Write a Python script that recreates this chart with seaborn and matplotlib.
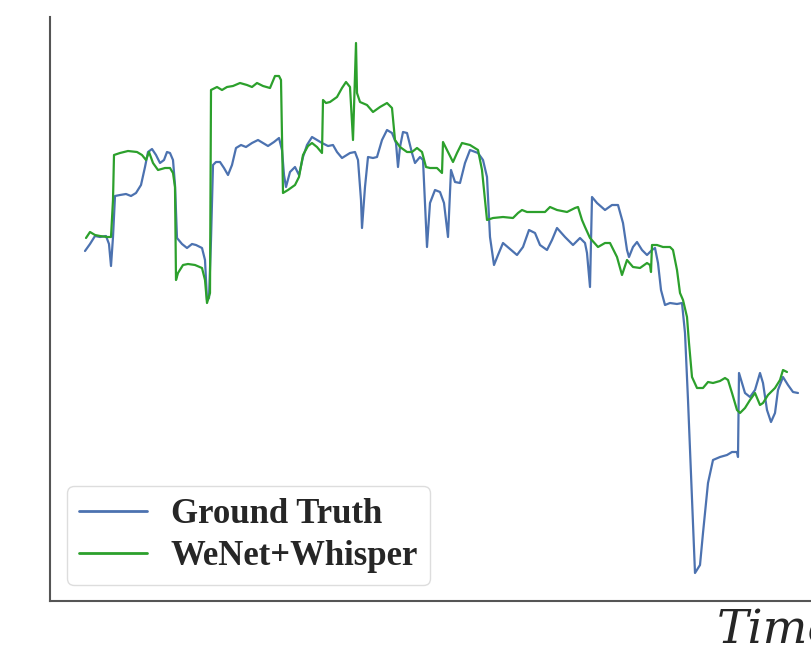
import pandas as pd
import matplotlib.pyplot as plt
import seaborn as sns

# pitch contour: ground truth vs. WeNet+Whisper prediction
gt_frames = [85, 90, 95, 100, 106, 109, 111, 113, 115, 120, 126, 131, 136, 141, 145, 148, 152, 156, 160, 164,
             167, 170, 173, 175, 177, 182, 187, 192, 196, 202, 205, 207, 209, 211, 213, 216, 220, 224, 228, 232,
             236, 241, 246, 252, 258, 263, 268, 274, 279, 282, 284, 286, 290, 295, 299, 303, 307, 312, 317, 322,
             328, 333, 337, 342, 350, 355, 358, 361, 362, 365, 368, 373, 377, 382, 387, 392, 396, 398, 400, 403,
             407, 412, 415, 420, 423, 427, 430, 435, 440, 444, 448, 451, 455, 460, 465, 470, 478, 483, 487, 490,
             494, 498, 503, 510, 517, 523, 529, 535, 540, 547, 552, 557, 565, 573, 580, 585, 587, 590, 592, 597,
             605, 612, 618, 623, 627, 629, 633, 637, 642, 647, 652, 655, 658, 661, 665, 670, 677, 682, 685, 688,
             692, 695, 700, 703, 708, 713, 720, 727, 732, 737, 738, 739, 742, 745, 750, 755, 760, 763, 767, 771,
             775, 778, 783, 788, 793, 798]
gt_pitch = [350, 357, 365, 364, 365, 357, 335, 364, 405, 406, 407, 405, 408, 416, 434, 449, 452, 446, 438, 441,
            449, 448, 441, 416, 363, 357, 353, 357, 356, 353, 341, 301, 303, 361, 436, 439, 439, 433, 426, 436,
            453, 456, 454, 458, 461, 458, 455, 459, 463, 451, 426, 414, 429, 434, 426, 444, 456, 464, 461, 458,
            455, 456, 449, 443, 448, 449, 441, 401, 373, 414, 444, 443, 444, 461, 471, 468, 458, 434, 454, 469,
            468, 448, 438, 444, 441, 354, 398, 411, 409, 398, 364, 431, 419, 418, 438, 451, 448, 441, 424, 364,
            336, 346, 358, 352, 346, 354, 371, 368, 356, 351, 361, 373, 364, 356, 363, 358, 348, 314, 404, 398,
            391, 396, 396, 378, 351, 344, 354, 359, 351, 346, 351, 353, 338, 311, 296, 298, 297, 298, 268, 201,
            101, 28, 36, 68, 118, 141, 144, 146, 149, 149, 144, 228, 218, 208, 204, 211, 228, 218, 191, 179,
            188, 211, 224, 216, 209, 208]

pred_frames = [86, 90, 95, 100, 107, 111, 113, 114, 120, 128, 137, 142, 146, 149, 153, 158, 165, 170, 173, 175,
               176, 178, 183, 188, 195, 202, 205, 207, 210, 211, 217, 222, 227, 233, 240, 247, 252, 257, 263, 270,
               275, 279, 281, 283, 288, 295, 299, 303, 308, 312, 317, 322, 323, 326, 330, 337, 342, 346, 350, 353,
               356, 357, 360, 367, 373, 380, 387, 392, 395, 400, 407, 412, 417, 422, 426, 430, 437, 442, 443, 447,
               453, 457, 462, 470, 478, 482, 487, 493, 503, 513, 518, 522, 527, 537, 545, 550, 557, 567, 575, 578,
               582, 585, 590, 598, 605, 610, 617, 622, 627, 633, 640, 647, 650, 651, 652, 657, 663, 670, 673, 677,
               680, 683, 687, 689, 692, 697, 703, 708, 713, 720, 725, 728, 732, 737, 740, 745, 750, 755, 760, 763,
               768, 775, 780, 783, 787]
pred_pitch = [363, 369, 366, 365, 364, 364, 401, 446, 448, 450, 449, 446, 441, 449, 438, 431, 433, 433, 428, 414,
              321, 328, 336, 337, 336, 333, 321, 298, 308, 511, 514, 511, 514, 515, 518, 516, 514, 518, 515, 513,
              525, 525, 521, 408, 411, 416, 424, 446, 455, 458, 454, 448, 501, 498, 499, 504, 513, 519, 514, 461,
              558, 508, 499, 496, 489, 494, 498, 493, 461, 454, 449, 449, 453, 449, 434, 433, 433, 428, 459, 451,
              439, 448, 458, 456, 451, 431, 381, 383, 384, 383, 388, 391, 389, 389, 389, 394, 391, 389, 393, 394,
              381, 374, 363, 354, 358, 358, 344, 326, 341, 334, 333, 338, 336, 329, 356, 356, 354, 354, 351, 331,
              308, 301, 284, 258, 224, 213, 213, 219, 218, 220, 223, 221, 208, 191, 188, 193, 201, 208, 196, 198,
              206, 213, 221, 231, 229]

series_labels = ['Ground Truth', 'WeNet+Whisper']
series_colors = ['#4c72b0', '#2ca02c']

df_gt = pd.DataFrame({'frame': gt_frames, 'pitch': gt_pitch})
df_pred = pd.DataFrame({'frame': pred_frames, 'pitch': pred_pitch})

sns.set_style('white')

fig = plt.figure(figsize=(8.11, 6.58), dpi=100)
ax = fig.add_axes([50 / 811, 57 / 658, 1 - 50 / 811, 584 / 658])

sns.lineplot(data=df_gt, x='frame', y='pitch', ax=ax, color=series_colors[0],
             linewidth=1.6, label=series_labels[0])
sns.lineplot(data=df_pred, x='frame', y='pitch', ax=ax, color=series_colors[1],
             linewidth=1.6, label=series_labels[1])

ax.set_xlim(50, 811)
ax.set_ylim(0, 584)
ax.set_xticks([])
ax.set_yticks([])
ax.set_ylabel('')

for side in ['top', 'right']:
    ax.spines[side].set_visible(False)
for side in ['left', 'bottom']:
    ax.spines[side].set_color('#555555')
    ax.spines[side].set_linewidth(1.5)

# x label runs off the right edge, like in the source image
ax.set_xlabel('Time', fontsize=34, fontstyle='italic', family='DejaVu Serif', ha='left')
ax.xaxis.set_label_coords(0.876, -0.012)

leg = ax.legend(loc='lower left', bbox_to_anchor=(0.022, 0.027), borderaxespad=0,
                prop={'family': 'Liberation Serif', 'weight': 'bold', 'size': 25},
                handlelength=1.95, handletextpad=0.7, borderpad=0.35, labelspacing=0.25,
                frameon=True, fancybox=True, framealpha=1)
leg.get_frame().set_edgecolor('#dddddd')
for line in leg.get_lines():
    line.set_linewidth(2.0)

fig.savefig('out.png', dpi=100)
